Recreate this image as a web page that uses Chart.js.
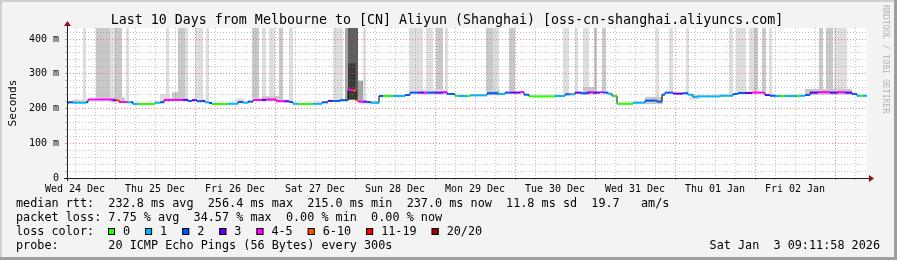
<!DOCTYPE html>
<html>
<head>
<meta charset="utf-8">
<script src="https://cdn.jsdelivr.net/npm/chart.js@4/dist/chart.umd.min.js"></script>
<style>
  html, body { margin: 0; padding: 0; background: #f3f3f3; }
  canvas { display: block; }
</style>
</head>
<body>
<canvas id="smoke" width="897" height="260"></canvas>
<script>
// x values are hours counted from Wed 24 Dec 00:00, y values are milliseconds
const hourMin = 9.6, hourMax = 249.6;
const msMax = 432;
const dayLabels = ['Wed 24 Dec', 'Thu 25 Dec', 'Fri 26 Dec', 'Sat 27 Dec', 'Sun 28 Dec',
                   'Mon 29 Dec', 'Tue 30 Dec', 'Wed 31 Dec', 'Thu 01 Jan', 'Fri 02 Jan'];
const yLabels = { 0: '0', 100: '100 m', 200: '200 m', 300: '300 m', 400: '400 m' };

// median rtt, one entry per change: start hour, value, lost pings (of 20)
const medianHour = [9.6, 9.9, 11.4, 15.3, 15.9, 23.4, 24.3, 25.2, 27.6, 28.8,
  29.4, 30.9, 36, 37.5, 38.7, 44.4, 45.9, 47.1, 48.6, 50.1,
  51, 52.2, 53.1, 57.9, 60.9, 62.4, 63.9, 65.4, 68.1, 69.3,
  72.3, 75, 76.2, 77.4, 78.9, 83.4, 86.1, 87.9, 89.1, 91.5,
  93.9, 95.4, 96.3, 96.9, 98.4, 99.6, 100.8, 103.2, 104.4, 107.4,
  111, 112.5, 114.9, 116.7, 117.6, 120, 122.4, 123.6, 126, 126.9,
  129.6, 130.5, 135.6, 138.9, 141, 142.5, 145.5, 146.7, 148.2, 156,
  159, 160.5, 162, 163.8, 165.6, 166.5, 167.4, 169.5, 170.4, 171.9,
  173.1, 173.4, 174.6, 179.4, 183, 186.6, 188.1, 189, 191.4, 194.4,
  195.9, 197.4, 198.6, 205.5, 209.4, 210.9, 213, 215.1, 219, 220.5,
  222, 223.5, 225, 228.6, 229.5, 231, 232.5, 234.9, 238.5, 240.9,
  243, 245.1, 246.6, 247.5, 248.4];
const medianMs = [213, 218, 217, 218, 226, 224, 224, 219, 218, 218,
  213, 213, 217, 218, 225, 225, 222, 224, 221, 222,
  218, 216, 213, 214, 219, 217, 220, 225, 225, 226,
  221, 221, 219, 214, 213, 214, 218, 222, 222, 224,
  254, 252, 224, 220, 220, 219, 217, 236, 236, 236,
  239, 246, 246, 246, 246, 246, 247, 242, 237, 236,
  236, 238, 244, 242, 246, 246, 247, 240, 235, 236,
  241, 241, 246, 244, 246, 247, 246, 247, 246, 243,
  236, 236, 214, 217, 223, 220, 240, 246, 243, 244,
  240, 233, 235, 237, 242, 245, 245, 246, 239, 237,
  236, 236, 236, 236, 237, 239, 246, 247, 246, 247,
  246, 242, 237, 237, 237];
const medianLoss = [0, 2, 1, 2, 4, 3, 7, 4, 1, 2,
  1, 0, 1, 2, 4, 3, 2, 3, 2, 3,
  1, 2, 0, 1, 2, 1, 2, 4, 3, 4,
  4, 3, 2, 1, 0, 1, 2, 3, 2, 2,
  4, 7, 7, 4, 3, 2, 1, 2, 0, 1,
  2, 2, 3, 4, 2, 3, 4, 2, 0, 1,
  0, 1, 2, 1, 2, 3, 4, 2, 0, 1,
  2, 1, 3, 2, 3, 4, 3, 4, 2, 1,
  1, 0, 0, 1, 2, 2, 2, 2, 3, 2,
  1, 1, 1, 1, 2, 2, 3, 4, 3, 2,
  1, 0, 1, 0, 1, 2, 3, 4, 3, 4,
  3, 2, 1, 0, 1];

// smoke: spread of the 20 pings (from hour, to hour, low ms, high ms, shade)
const smokeFrom = [14.4, 18.3, 22.5, 24, 27.3, 39.3, 42.9, 45, 48, 51.3,
  65.1, 68.1, 70.2, 73.2, 76.2, 89.4, 93, 93.9, 96.9, 98.4,
  112.2, 117.3, 120.3, 123, 135.3, 137.4, 142.2, 158.4, 162, 164.4,
  167.7, 170.1, 186.3, 190.2, 195.3, 208.2, 210.3, 214.2, 215.7, 218.1,
  220.2, 235.2, 237.3, 239.7,
  11.4, 22.5, 37.5, 41.1, 60.3, 68.1, 74.4, 97.5, 115.5, 135.9,
  164.4, 183, 196.5, 231, 93.9];
const smokeTo = [15.3, 22.5, 24, 26.1, 28.2, 40.2, 45, 45.9, 50.4, 52.2,
  67.2, 69.3, 72, 74.4, 77.4, 92.4, 93.9, 96.9, 98.4, 99.3,
  116.4, 119.4, 122.4, 123.9, 137.4, 139.2, 144, 160.2, 162.9, 166.2,
  168.6, 171.3, 187.2, 191.4, 196.2, 209.4, 213.3, 215.7, 216.9, 219.3,
  221.1, 236.4, 239.4, 243.6,
  15.3, 27, 40.5, 42.9, 62.7, 73.5, 76.5, 103.5, 123.6, 139.5,
  168.6, 188.4, 199.5, 245.1, 96.3];
const smokeLow = [219, 228, 228, 222, 220, 228, 228, 226, 225, 220,
  229, 229, 229, 224, 222, 226, 226, 226, 222, 222,
  249, 249, 249, 245, 247, 245, 249, 243, 249, 249,
  249, 249, 226, 249, 243, 240, 248, 249, 249, 249,
  240, 250, 250, 250,
  217, 219, 218, 222, 216, 222, 216, 212, 240, 238,
  240, 213, 226, 240, 226];
const smokeHigh = [440, 440, 440, 440, 440, 440, 440, 440, 440, 440,
  440, 440, 440, 440, 440, 440, 440, 440, 280, 440,
  440, 440, 440, 440, 440, 440, 440, 440, 440, 440,
  440, 440, 440, 440, 440, 440, 440, 440, 440, 440,
  440, 440, 440, 440,
  227, 232, 242, 247, 229, 236, 226, 222, 255, 252,
  262, 234, 240, 256, 330];
const smokeShade = [0, 1, 0, 1, 0, 0, 1, 0, 0, 0,
  1, 0, 0, 1, 0, 0, 2, 3, 2, 0,
  0, 0, 1, 0, 1, 0, 1, 0, 0, 0,
  1, 1, 0, 0, 0, 0, 0, 0, 1, 1,
  0, 1, 1, 0,
  0, 1, 0, 1, 0, 1, 0, 0, 0, 1,
  1, 1, 0, 1, 4];
const shadeColors = ['#dedede', '#c9c9c9', '#a6a6a6', '#5e5e5e', '#3a3a3a'];

// loss colours, bucket upper bounds
const lossMax = [0, 1, 2, 3, 5, 10, 19, 20];
const lossLabels = ['0', '1', '2', '3', '4-5', '6-10', '11-19', '20/20'];
const lossColors = ['#26ff00', '#00b8ff', '#0059ff', '#5e00ff', '#ff00ff', '#ff5500', '#ff0000', '#a00000'];

const lossColor = n => lossColors[lossMax.findIndex(m => n <= m)];

const titleText = 'Last 10 Days from Melbourne to [CN] Aliyun (Shanghai) [oss-cn-shanghai.aliyuncs.com]';
const statLines = [
  'median rtt:  232.8 ms avg  256.4 ms max  215.0 ms min  237.0 ms now  11.8 ms sd  19.7   am/s',
  'packet loss: 7.75 % avg  34.57 % max  0.00 % min  0.00 % now'
];
const probeLine = 'probe:       20 ICMP Echo Pings (56 Bytes) every 300s';
const stampText = 'Sat Jan  3 09:11:58 2026';

const mono = '"DejaVu Sans Mono", monospace';
const minorGrid = 'rgba(128,128,128,0.45)';
const majorGrid = 'rgba(222,70,70,0.62)';

// datasets
const smokeSets = smokeFrom.map((from, i) => ({
  data: [{ x: from, y: smokeHigh[i] }, { x: smokeTo[i], y: smokeHigh[i] }],
  fill: { value: smokeLow[i] },
  backgroundColor: shadeColors[smokeShade[i]],
  borderColor: 'rgba(0,0,0,0)',
  borderWidth: 0,
  pointRadius: 0,
  order: 1000 - i
}));

const blackLine = medianHour.map((h, i) => ({ x: h, y: medianMs[i] }));
blackLine.push({ x: hourMax, y: medianMs[medianMs.length - 1] });

const lossPts = [];
medianHour.forEach((h, i) => {
  const end = i + 1 < medianHour.length ? medianHour[i + 1] : hourMax;
  lossPts.push({ x: h, y: medianMs[i] }, { x: end, y: medianMs[i] }, { x: end, y: null });
});

const gridX = [];
for (let h = 12; h < hourMax; h += 6) gridX.push(h);
const gridY = [];
for (let v = 0; v <= 420; v += 20) gridY.push(v);

// frame, axes and the text around the plot
const rrdFrame = {
  id: 'rrdFrame',
  beforeDraw(chart) {
    const { ctx, chartArea: a, width, height } = chart;
    ctx.save();
    ctx.fillStyle = '#f3f3f3';
    ctx.fillRect(0, 0, width, height);
    ctx.fillStyle = '#cfcfcf';
    ctx.fillRect(0, 0, width, 2);
    ctx.fillRect(0, 0, 2, height);
    ctx.fillStyle = '#9e9e9e';
    ctx.fillRect(0, height - 3, width, 3);
    ctx.fillRect(width - 3, 0, 3, height);
    ctx.fillStyle = '#ffffff';
    ctx.fillRect(a.left, a.top, a.right - a.left, a.bottom - a.top);
    ctx.restore();
  },
  afterDraw(chart) {
    const { ctx, chartArea: a } = chart;
    ctx.save();
    // axes
    ctx.strokeStyle = '#202020';
    ctx.lineWidth = 1;
    ctx.beginPath();
    ctx.moveTo(a.left - 3, a.bottom + 0.5);
    ctx.lineTo(a.right + 3, a.bottom + 0.5);
    ctx.moveTo(a.left + 0.5, a.bottom + 3);
    ctx.lineTo(a.left + 0.5, a.top - 3);
    ctx.stroke();
    ctx.fillStyle = '#8b1010';
    ctx.beginPath();
    ctx.moveTo(a.right + 2, a.bottom - 3);
    ctx.lineTo(a.right + 7, a.bottom + 0.5);
    ctx.lineTo(a.right + 2, a.bottom + 4);
    ctx.fill();
    ctx.beginPath();
    ctx.moveTo(a.left - 3, a.top - 2);
    ctx.lineTo(a.left + 0.5, a.top - 7);
    ctx.lineTo(a.left + 4, a.top - 2);
    ctx.fill();

    // title
    ctx.fillStyle = '#000';
    ctx.font = '13.3px ' + mono;
    ctx.textAlign = 'center';
    ctx.textBaseline = 'alphabetic';
    ctx.fillText(titleText, 447, 24);

    // y title
    ctx.save();
    ctx.font = '11.2px ' + mono;
    ctx.translate(16, 103);
    ctx.rotate(-Math.PI / 2);
    ctx.fillText('Seconds', 0, 0);
    ctx.restore();

    // watermark
    ctx.save();
    ctx.fillStyle = '#b4b4b4';
    ctx.font = '8.2px ' + mono;
    ctx.textAlign = 'left';
    ctx.translate(883, 5);
    ctx.rotate(Math.PI / 2);
    ctx.fillText('RRDTOOL / TOBI OETIKER', 0, 0);
    ctx.restore();

    // legend block
    ctx.font = '11.8px ' + mono;
    ctx.textAlign = 'left';
    ctx.fillStyle = '#000';
    ctx.fillText(statLines[0], 16, 207);
    ctx.fillText(statLines[1], 16, 221);
    ctx.fillText('loss color:', 16, 235);
    let x = 108;
    lossLabels.forEach((lbl, i) => {
      ctx.fillStyle = lossColors[i];
      ctx.fillRect(x, 228, 7, 7);
      ctx.strokeStyle = '#000';
      ctx.strokeRect(x + 0.5, 228.5, 6, 6);
      ctx.fillStyle = '#000';
      ctx.fillText(lbl, x + 15, 235);
      x += 15 + ctx.measureText(lbl).width + 15;
    });
    ctx.fillText(probeLine, 16, 249);
    ctx.textAlign = 'right';
    ctx.fillText(stampText, 880, 249);
    ctx.restore();
  }
};

const ctx = document.getElementById('smoke').getContext('2d');
new Chart(ctx, {
  type: 'line',
  data: {
    datasets: [
      {
        data: lossPts,
        borderWidth: 2,
        borderCapStyle: 'butt',
        pointRadius: 0,
        fill: false,
        spanGaps: false,
        segment: { borderColor: c => lossColor(medianLoss[Math.floor(c.p0DataIndex / 3)]) },
        order: 0
      },
      {
        data: blackLine,
        stepped: true,
        borderColor: '#000',
        borderWidth: 1,
        pointRadius: 0,
        fill: false,
        order: 1
      },
      ...smokeSets
    ]
  },
  options: {
    responsive: false,
    animation: false,
    events: [],
    layout: { padding: { top: 28, right: 30, bottom: 0, left: 0 } },
    plugins: { legend: { display: false }, tooltip: { enabled: false }, title: { display: false } },
    scales: {
      x: {
        type: 'linear',
        min: hourMin,
        max: hourMax,
        afterBuildTicks: s => { s.ticks = gridX.map(v => ({ value: v })); },
        afterFit: s => { s.height = 82; },
        grid: {
          z: 1,
          color: c => (c.tick && c.tick.value % 24 === 0 ? majorGrid : minorGrid),
          tickColor: c => (c.tick && c.tick.value % 24 === 0 ? majorGrid : minorGrid),
          tickLength: 2
        },
        border: { display: false, dash: [1, 2] },
        ticks: {
          autoSkip: false,
          maxRotation: 0,
          padding: 3,
          color: '#000',
          font: { family: 'DejaVu Sans Mono', size: 10 },
          callback: v => (v % 24 === 12 ? dayLabels[(v - 12) / 24] : '')
        }
      },
      y: {
        min: 0,
        max: msMax,
        afterBuildTicks: s => { s.ticks = gridY.map(v => ({ value: v })); },
        afterFit: s => { s.width = 67; },
        grid: {
          z: 1,
          color: c => (c.tick && c.tick.value % 100 === 0 ? majorGrid : minorGrid),
          tickColor: c => (c.tick && c.tick.value % 100 === 0 ? majorGrid : minorGrid),
          tickLength: 2
        },
        border: { display: false, dash: [1, 2] },
        ticks: {
          autoSkip: false,
          padding: 6,
          color: '#000',
          font: { family: 'DejaVu Sans Mono', size: 10 },
          callback: v => yLabels[v] || ''
        }
      }
    }
  },
  plugins: [rrdFrame]
});
</script>
</body>
</html>
